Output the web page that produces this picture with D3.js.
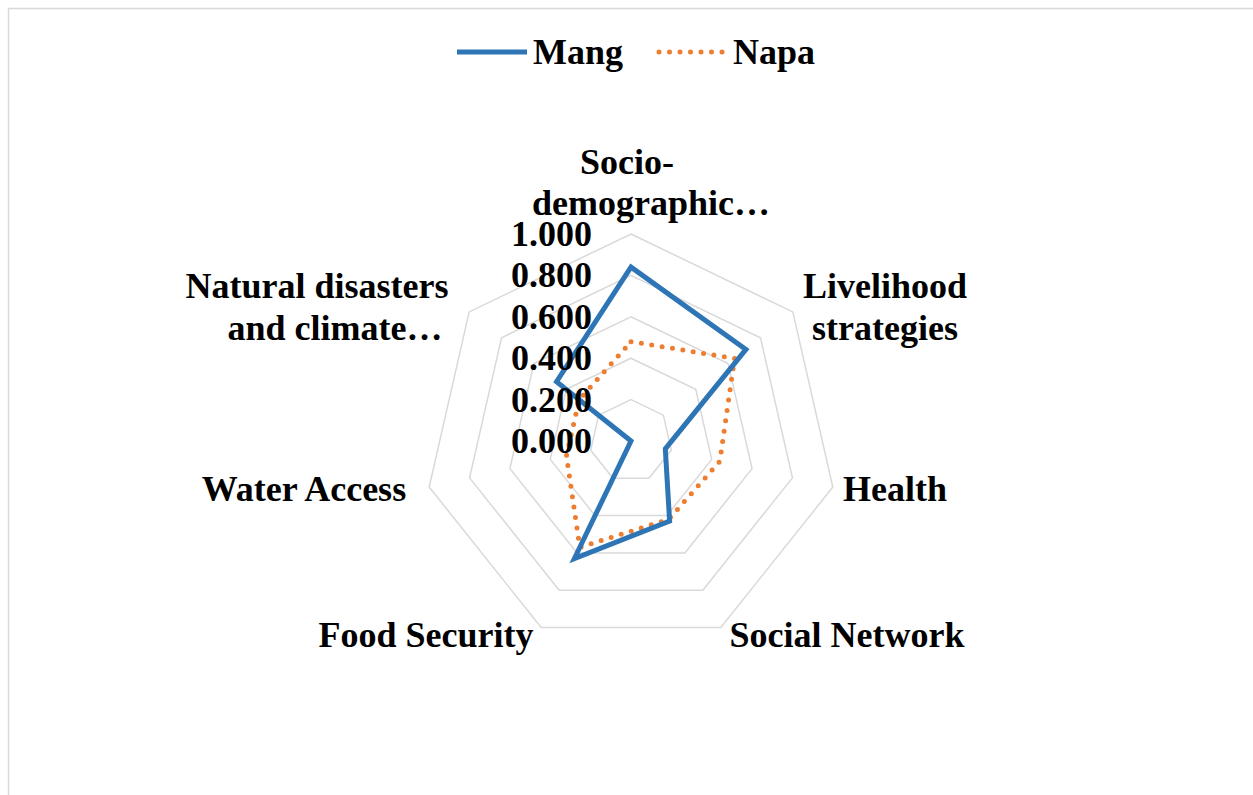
<!DOCTYPE html>
<html>
<head>
<meta charset="utf-8">
<script src="https://cdn.jsdelivr.net/npm/d3@7"></script>
<style>
  html, body { margin: 0; padding: 0; background: #fff; }
  svg { display: block; }
  text { font-family: "Liberation Serif", "Times New Roman", serif; font-weight: bold; fill: #000; }
</style>
</head>
<body>
<svg id="chart" width="1253" height="795"></svg>
<script>
// ---- data ----
const categories = ["Socio-demographic…", "Livelihood strategies", "Health", "Social Network", "Food Security", "Water Access", "Natural disasters and climate…"];
const seriesNames = ["Mang", "Napa"];
const mangValues = [0.84, 0.71, 0.17, 0.43, 0.63, 0.00, 0.46];
const napaValues = [0.48, 0.64, 0.44, 0.42, 0.57, 0.32, 0.32];
const tickValues = [0, 0.2, 0.4, 0.6, 0.8, 1.0];
const tickLabels = ["0.000", "0.200", "0.400", "0.600", "0.800", "1.000"];

// ---- layout ----
const W = 1253, H = 795;
const cx = 631, cy = 441, R = 207;
const colors = { Mang: "#2e75b6", Napa: "#ed7d31" };

// label line layout: [text, centerX, baselineY] per line
const labelLayout = [
  [["Socio-", 627, 174], ["demographic…", 651, 215]],
  [["Livelihood", 885, 298], ["strategies", 885, 340]],
  [["Health", 895, 501]],
  [["Social Network", 847, 647]],
  [["Food Security", 426, 647]],
  [["Water Access", 304, 501]],
  [["Natural disasters", 317, 298], ["and climate…", 335, 340]]
];

const svg = d3.select("#chart");

// chart frame
svg.append("rect")
  .attr("x", 8.5).attr("y", 8.5)
  .attr("width", W + 20).attr("height", H + 20)
  .attr("fill", "none").attr("stroke", "#d9d9d9").attr("stroke-width", 1.5);

const rScale = d3.scaleLinear().domain([0, 1]).range([0, R]);
const aScale = d3.scaleLinear().domain([0, categories.length]).range([0, 2 * Math.PI]);

const g = svg.append("g").attr("transform", `translate(${cx},${cy})`);

// grid rings
const ringLine = d3.lineRadial()
  .angle((d, i) => aScale(i))
  .radius(d => rScale(d))
  .curve(d3.curveLinearClosed);

g.selectAll("path.ring")
  .data(tickValues.filter(t => t > 0))
  .join("path")
  .attr("class", "ring")
  .attr("d", t => ringLine(categories.map(() => t)))
  .attr("fill", "none")
  .attr("stroke", "#d9d9d9")
  .attr("stroke-width", 1.5);

// series
const seriesLine = d3.lineRadial()
  .angle((d, i) => aScale(i))
  .radius(d => rScale(d))
  .curve(d3.curveLinearClosed);

g.append("path")
  .attr("d", seriesLine(napaValues))
  .attr("fill", "none")
  .attr("stroke", colors.Napa)
  .attr("stroke-width", 5)
  .attr("stroke-linecap", "round")
  .attr("stroke-dasharray", "0 10.5");

g.append("path")
  .attr("d", seriesLine(mangValues))
  .attr("fill", "none")
  .attr("stroke", colors.Mang)
  .attr("stroke-width", 5)
  .attr("stroke-linejoin", "miter");

// tick labels
g.selectAll("text.tick")
  .data(tickValues)
  .join("text")
  .attr("class", "tick")
  .attr("x", -39)
  .attr("y", t => -rScale(t) + 12)
  .attr("text-anchor", "end")
  .attr("font-size", 36)
  .text((t, i) => tickLabels[i]);

// category labels
categories.forEach((c, i) => {
  labelLayout[i].forEach(([txt, x, y]) => {
    svg.append("text")
      .attr("x", x).attr("y", y)
      .attr("text-anchor", "middle")
      .attr("font-size", 36)
      .text(txt);
  });
});

// legend
const legend = svg.append("g");
const legendItems = [
  { name: seriesNames[0], x1: 457, x2: 527, tx: 533, dash: null },
  { name: seriesNames[1], x1: 659, x2: 727, tx: 733, dash: "0 10.5" }
];
legendItems.forEach(it => {
  const ln = legend.append("line")
    .attr("x1", it.x1).attr("x2", it.x2)
    .attr("y1", 52).attr("y2", 52)
    .attr("stroke", colors[it.name])
    .attr("stroke-width", 5)
    .attr("stroke-linecap", it.dash ? "round" : "butt");
  if (it.dash) ln.attr("stroke-dasharray", it.dash);
  legend.append("text")
    .attr("x", it.tx).attr("y", 64)
    .attr("font-size", 36)
    .text(it.name);
});
</script>
</body>
</html>
